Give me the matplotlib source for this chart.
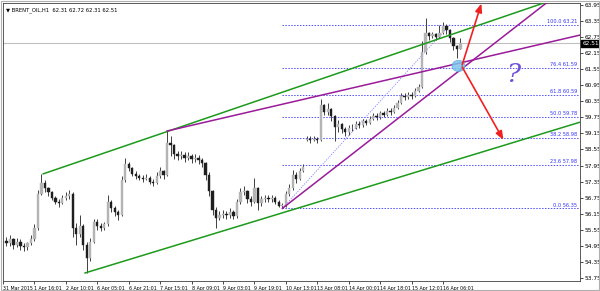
import matplotlib
matplotlib.use("Agg")
import matplotlib.pyplot as plt
import matplotlib.transforms as mtransforms
from matplotlib.patches import Ellipse, Rectangle
import numpy as np

# 2-hour candles, position = hourly bar index
bar_idx = [2 + 2 * k for k in range(131)]
opens = [55.15, 55.05, 55.20, 55.00, 55.10, 54.95, 54.90, 55.05, 55.20, 55.60,
         56.90, 57.30, 57.10, 56.95, 56.75, 56.60, 56.55, 56.75, 56.80, 56.90,
         55.60, 55.40, 55.70, 55.00, 54.50, 55.10, 55.85, 55.70, 55.60, 55.75,
         56.60, 56.35, 56.20, 56.10, 57.40, 58.00, 57.85, 57.65, 57.55, 57.50,
         57.45, 57.50, 57.35, 57.30, 57.55, 57.75, 57.60, 58.80, 58.70, 58.40,
         58.30, 58.35, 58.25, 58.30, 58.20, 58.25, 58.15, 58.05, 57.60, 57.00,
         56.30, 56.00, 56.10, 56.15, 56.10, 56.20, 56.05, 56.60, 56.95, 57.00,
         56.70, 56.60, 57.10, 56.55, 56.70, 56.75, 56.70, 56.75, 56.60, 56.45,
         56.45, 56.90, 57.10, 57.60, 57.45, 57.75, 58.90, 58.95, 58.90, 58.95,
         58.90, 60.20, 59.95, 60.05, 59.80, 59.40, 59.50, 59.30, 59.20, 59.35,
         59.35, 59.50, 59.45, 59.60, 59.55, 59.70, 59.80, 59.75, 59.90, 59.85,
         60.00, 59.95, 60.10, 60.30, 60.55, 60.50, 60.60, 60.55, 60.75, 60.90,
         62.20, 62.90, 62.80, 62.85, 62.75, 62.90, 63.15, 63.00, 62.70, 62.40,
         62.31]
closes = [55.05, 55.20, 55.00, 55.10, 54.95, 54.90, 55.05, 55.20, 55.60, 56.90,
          57.30, 57.10, 56.95, 56.75, 56.60, 56.55, 56.75, 56.80, 56.90, 55.60,
          55.40, 55.70, 55.00, 54.50, 55.10, 55.85, 55.70, 55.60, 55.75, 56.60,
          56.35, 56.20, 56.10, 57.40, 58.00, 57.85, 57.65, 57.55, 57.50, 57.45,
          57.50, 57.35, 57.30, 57.55, 57.75, 57.60, 58.80, 58.70, 58.40, 58.30,
          58.35, 58.25, 58.30, 58.20, 58.25, 58.15, 58.05, 57.60, 57.00, 56.30,
          56.00, 56.10, 56.15, 56.10, 56.20, 56.05, 56.60, 56.95, 57.00, 56.70,
          56.60, 57.10, 56.55, 56.70, 56.75, 56.70, 56.75, 56.60, 56.45, 56.45,
          56.90, 57.10, 57.60, 57.45, 57.75, 57.90, 58.95, 58.90, 58.95, 58.90,
          60.20, 59.95, 60.05, 59.80, 59.40, 59.50, 59.30, 59.20, 59.35, 59.35,
          59.50, 59.45, 59.60, 59.55, 59.70, 59.80, 59.75, 59.90, 59.85, 60.00,
          59.95, 60.10, 60.30, 60.55, 60.50, 60.60, 60.55, 60.75, 60.90, 62.20,
          62.90, 62.80, 62.85, 62.75, 62.90, 63.15, 63.00, 62.70, 62.40, 62.31,
          62.51]
highs = [55.30, 55.35, 55.25, 55.25, 55.20, 55.05, 55.10, 55.35, 55.75, 57.05,
         57.64, 57.40, 57.15, 57.00, 56.80, 56.70, 56.85, 56.95, 57.05, 56.95,
         55.80, 56.10, 55.75, 55.10, 55.25, 55.95, 55.95, 55.80, 55.85, 56.85,
         56.65, 56.45, 56.30, 57.55, 58.25, 58.10, 57.90, 57.75, 57.65, 57.60,
         57.65, 57.55, 57.45, 57.70, 57.90, 57.80, 59.24, 59.05, 58.75, 58.50,
         58.50, 58.45, 58.45, 58.40, 58.40, 58.35, 58.25, 58.10, 57.70, 57.05,
         56.40, 56.25, 56.30, 56.25, 56.35, 56.30, 56.70, 57.10, 57.20, 57.05,
         56.80, 57.49, 57.15, 56.80, 56.85, 56.85, 56.85, 56.80, 56.65, 56.55,
         57.00, 57.25, 57.80, 57.70, 57.85, 58.00, 59.05, 59.05, 59.05, 59.00,
         60.45, 60.25, 60.30, 60.10, 59.85, 59.65, 59.55, 59.40, 59.45, 59.50,
         59.60, 59.60, 59.70, 59.70, 59.80, 59.90, 59.90, 60.00, 60.00, 60.10,
         60.10, 60.20, 60.40, 60.65, 60.65, 60.70, 60.70, 60.85, 61.00, 62.60,
         63.47, 62.95, 62.95, 62.90, 63.20, 63.30, 63.25, 63.05, 62.75, 62.45,
         62.72]
lows = [54.95, 54.95, 54.85, 54.90, 54.80, 54.75, 54.80, 55.00, 55.15, 55.55,
        56.85, 56.95, 56.80, 56.65, 56.50, 56.40, 56.50, 56.65, 56.70, 55.30,
        55.00, 55.30, 54.80, 53.94, 54.40, 55.05, 55.55, 55.50, 55.55, 55.70,
        56.20, 56.05, 55.90, 56.05, 57.35, 57.75, 57.55, 57.45, 57.40, 57.35,
        57.40, 57.25, 57.20, 57.25, 57.50, 57.45, 57.55, 58.30, 58.20, 58.15,
        58.20, 58.10, 58.15, 58.05, 58.10, 58.00, 57.90, 57.40, 56.80, 56.10,
        55.60, 55.90, 56.00, 55.95, 56.00, 55.95, 56.00, 56.50, 56.85, 56.55,
        56.45, 56.55, 56.30, 56.45, 56.60, 56.60, 56.60, 56.50, 56.40, 56.35,
        56.40, 56.80, 57.05, 57.30, 57.40, 57.70, 58.85, 58.80, 58.85, 58.80,
        58.85, 59.85, 59.85, 59.60, 58.85, 59.20, 59.15, 59.05, 59.10, 59.25,
        59.30, 59.35, 59.40, 59.45, 59.50, 59.65, 59.65, 59.70, 59.75, 59.80,
        59.85, 59.90, 60.05, 60.25, 60.40, 60.45, 60.45, 60.50, 60.70, 60.85,
        62.10, 62.65, 62.70, 62.65, 62.70, 62.85, 62.85, 62.55, 62.25, 61.95,
        62.31]

# time axis labels every 18 hourly bars
time_labels = ["31 Mar 2015", "1 Apr 16:01", "2 Apr 10:01", "6 Apr 05:01", "6 Apr 21:01",
               "7 Apr 15:01", "8 Apr 09:01", "9 Apr 03:01", "9 Apr 19:01", "10 Apr 13:01",
               "13 Apr 08:01", "14 Apr 00:01", "14 Apr 18:01", "15 Apr 12:01", "16 Apr 06:01"]
price_ticks = [63.95, 63.35, 62.75, 62.15, 61.55, 60.95, 60.35, 59.75, 59.15, 58.55,
               57.95, 57.35, 56.75, 56.15, 55.55, 54.95, 54.35, 53.75]

# fibonacci retracement
fib_levels = ["100.0", "76.4", "61.8", "50.0", "38.2", "23.6", "0.0"]
fib_prices = [63.21, 61.59, 60.59, 59.78, 58.98, 57.98, 56.35]
fib_start = 160
fib_diag = ([160, 256], [56.35, 63.21])

# hand drawn lines (bar index, price)
green_upper = ([23, 312], [57.64, 64.07])
green_lower = ([47, 331], [53.94, 59.58])
purple_a = ([94, 331], [59.24, 62.83])
purple_b = ([160, 312], [56.35, 64.06])
arrow_up = ((263, 61.71), (274, 64.0))
arrow_down = ((263, 61.63), (286.6, 58.91))
ellipse_c = (260.9, 61.67)
last_price = 62.51

fig = plt.figure(figsize=(6, 2.91), dpi=100)
ax = fig.add_axes([0.005, 0.0344, 0.962, 0.9553])
ax.set_xlim(0.9, 330.6)
ax.set_ylim(53.64, 64.02)

# current price line
ax.axhline(last_price, color="#c0c0c0", lw=0.8, zorder=1)

# fib levels
for lvl, p in zip(fib_levels, fib_prices):
    ax.plot([fib_start, 330.6], [p, p], color="#5050ff", lw=0.7, ls=(0, (1.5, 1.5)), zorder=1)
    ax.text(329, p + 0.03, f"{lvl} {p:.2f}", color="#3030ff", fontsize=3.6,
            ha="right", va="bottom", zorder=5)
ax.plot(fib_diag[0], fib_diag[1], color="#8080ff", lw=0.6, ls=(0, (1.5, 1.5)), zorder=1)

# candles
o = np.array(opens); c = np.array(closes)
ax.vlines(bar_idx, lows, highs, color="#404040", lw=0.7, zorder=2)
up = c >= o
body_h = np.maximum(np.abs(c - o), 0.02)
body_b = np.minimum(o, c)
cols = np.where(up, "#b4b4b4", "#1e1e1e")
ax.bar(bar_idx, body_h, bottom=body_b, width=1.3, color=cols, edgecolor=cols, lw=0.3, zorder=3)

# trend lines
ax.plot(*green_upper, color="#1c9a1c", lw=1.1, zorder=4)
ax.plot(*green_lower, color="#1c9a1c", lw=1.1, zorder=4)
ax.plot(*purple_a, color="#9a1a9a", lw=1.1, zorder=4)
ax.plot(*purple_b, color="#9a1a9a", lw=1.1, zorder=4)

ax.add_patch(Ellipse(ellipse_c, 7.5, 0.42, facecolor="#7cc4ec", edgecolor="#5aa8d8",
                     alpha=0.85, lw=0.5, zorder=5))
for a in (arrow_up, arrow_down):
    ax.annotate("", xy=a[1], xytext=a[0], zorder=6,
                arrowprops=dict(arrowstyle="-|>,head_length=0.5,head_width=0.2",
                                color="#f02020", lw=1.2, shrinkA=0, shrinkB=0))
ax.text(292, 61.35, "?", color="#7050d8", fontsize=19, ha="center", va="center",
        family="DejaVu Serif", style="italic", zorder=6)

# axes styling
ax.yaxis.tick_right()
ax.set_yticks(price_ticks)
ax.set_yticklabels([f"{p:.2f}" for p in price_ticks])
ax.set_xticks([18 * i for i in range(len(time_labels))])
ax.set_xticklabels(time_labels, ha="left")
ax.tick_params(axis="y", labelsize=4.2, length=2, width=0.5, pad=1, colors="black")
ax.tick_params(axis="x", labelsize=3.4, length=2, width=0.5, pad=1.5, colors="black")
for lab in ax.get_xticklabels():
    lab.set_x(lab.get_position()[0])
for sp in ax.spines.values():
    sp.set_linewidth(0.6)
    sp.set_color("#404040")

trans = mtransforms.blended_transform_factory(ax.transAxes, ax.transData)
ax.text(1.004, last_price, f"{last_price:.2f}", transform=trans, color="white", fontsize=4.2,
        ha="left", va="center", zorder=7,
        bbox=dict(boxstyle="square,pad=0.2", facecolor="black", edgecolor="black"))

ax.text(0.006, 0.985, "\u25bc BRENT_OIL,H1  62.31 62.72 62.31 62.51", transform=ax.transAxes,
        fontsize=3.8, ha="left", va="top", color="black")

fig.patches.append(Rectangle((0.001, 0.002), 0.998, 0.996, transform=fig.transFigure,
                             fill=False, edgecolor="#b0b0b0", lw=0.8))

fig.savefig("out.png", dpi=100)
